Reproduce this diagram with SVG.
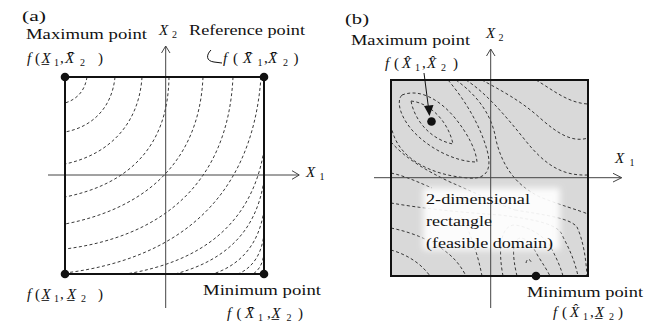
<svg xmlns="http://www.w3.org/2000/svg" width="654" height="323" viewBox="0 0 654 323">
<defs>
<style>
.t{font-family:"Liberation Serif","Times New Roman",serif;font-size:15px;fill:#111}
.it{font-style:italic}
.sb{font-size:10px}
.ax{stroke:#444;stroke-width:1;fill:none}
.ah{stroke:#444;stroke-width:1;fill:none}
.ct{stroke:#222;stroke-width:0.9;fill:none;stroke-dasharray:3 2.4}
.bd{stroke:#111;stroke-width:2;fill:none}
.dot{fill:#111}
</style>
<filter id="glow" x="-20%" y="-30%" width="140%" height="160%"><feGaussianBlur stdDeviation="3"/></filter>
</defs>
<rect width="654" height="323" fill="#fff"/>

<!-- Panel (a) -->
<g id="panel-a">
<g id="contours-a">
<path class="ct" d="M87,77 C85,90 78,99 65,103"/>
<path class="ct" d="M115,77 C112,108 92,127 65,132"/>
<path class="ct" d="M142,77 C139,125 108,155 65,164"/>
<path class="ct" d="M169,77 C168,150 125,185 65,197"/>
<path class="ct" d="M203,77 C199,168 138,210 65,224"/>
<path class="ct" d="M233,77 C228,185 160,237 65,249"/>
<path class="ct" d="M261,77 C252,205 170,260 65,273"/>
<path class="ct" d="M264,150 C252,225 200,262 126,274"/>
<path class="ct" d="M264,180 C256,236 220,262 175,274"/>
<path class="ct" d="M264,210 C259,245 240,265 213,274"/>
<path class="ct" d="M264,233 C262,255 252,268 238,274"/>
<path class="ct" d="M264,252 C263,264 259,270 253,274"/>
<path class="ct" d="M264,266 C264,270 262,272 259,274"/>
</g>
<g id="axes-a">
<path class="ax" d="M165.7,308 V46"/>
<path class="ah" d="M161.5,53 L165.7,46 L170,53"/>
<path class="ax" d="M48,175 H299"/>
<path class="ah" d="M292,170.7 L299.3,175 L292,179.3"/>
</g>
<g id="rect-a"><rect class="bd" x="65" y="77" width="199" height="197"/></g>
<g id="pt-max-a"><circle class="dot" cx="65" cy="77" r="4.3"/></g>
<g id="pt-ref-a"><circle class="dot" cx="264" cy="77" r="4.3"/></g>
<g id="pt-ll-a"><circle class="dot" cx="65" cy="274" r="4.3"/></g>
<g id="pt-min-a"><circle class="dot" cx="264" cy="274" r="4.3"/></g>
<g id="labels-a">
<text class="t" x="22" y="20.5" textLength="24" lengthAdjust="spacingAndGlyphs">(a)</text>
<text class="t" x="26" y="39" textLength="121" lengthAdjust="spacingAndGlyphs">Maximum point</text>
<text class="t"><tspan class="it" x="27" y="63">f</tspan><tspan x="35" y="63">(</tspan><tspan class="it" x="41.5" y="63">X̲</tspan><tspan class="sb" x="54" y="66">1</tspan><tspan x="60" y="63">,</tspan><tspan class="it" x="65" y="63">X̄</tspan><tspan class="sb" x="80" y="66">2</tspan><tspan x="98" y="63">)</tspan></text>
<text class="t"><tspan class="it" x="159" y="35">X</tspan><tspan class="sb" x="172" y="38">2</tspan></text>
<text class="t" x="189" y="35" textLength="116" lengthAdjust="spacingAndGlyphs">Reference point</text>
<path d="M211,50 C206,55 206,61 214,62 L222,63" stroke="#111" stroke-width="1" fill="none"/>
<text class="t"><tspan class="it" x="223" y="63">f</tspan><tspan x="233" y="63">(</tspan><tspan class="it" x="243" y="63">X̄</tspan><tspan class="sb" x="257.5" y="66">1</tspan><tspan x="264" y="63">,</tspan><tspan class="it" x="268" y="63">X̄</tspan><tspan class="sb" x="283" y="66">2</tspan><tspan x="293.5" y="63">)</tspan></text>
<text class="t"><tspan class="it" x="306" y="177">X</tspan><tspan class="sb" x="319.5" y="180">1</tspan></text>
<text class="t"><tspan class="it" x="27" y="299">f</tspan><tspan x="35" y="299">(</tspan><tspan class="it" x="41.5" y="299">X̲</tspan><tspan class="sb" x="54" y="302">1</tspan><tspan x="60" y="299">,</tspan><tspan class="it" x="67" y="299">X̲</tspan><tspan class="sb" x="81" y="302">2</tspan><tspan x="98" y="299">)</tspan></text>
<text class="t" x="203" y="295" textLength="118" lengthAdjust="spacingAndGlyphs">Minimum point</text>
<text class="t"><tspan class="it" x="227" y="318">f</tspan><tspan x="236.5" y="318">(</tspan><tspan class="it" x="245" y="318">X̄</tspan><tspan class="sb" x="258" y="321">1</tspan><tspan x="267" y="318">,</tspan><tspan class="it" x="271.5" y="318">X̲</tspan><tspan class="sb" x="286.5" y="321">2</tspan><tspan x="298" y="318">)</tspan></text>
</g>
</g>

<!-- Panel (b) -->
<g id="panel-b">
<rect x="391" y="80" width="197" height="196" fill="#d9d9d9"/>
<g id="contours-b">
<path class="ct" d="M411,101 C430,103 448,121 453,144 C432,140 415,122 411,101 Z"/>
<path class="ct" d="M402,95 C420,88 440,100 455,118 C468,134 476,150 477,162 C455,162 428,148 412,130 C400,116 396,101 402,95 Z"/>
<path class="ct" d="M391,125 C396,158 430,175 468,178 C488,180 492,168 487,150 C480,125 465,100 448,80"/>
<path class="ct" d="M391,142 C405,158 425,170 450,182 C480,195 500,205 515,210"/>
<path class="ct" d="M391,173 C405,176 418,182 432,188"/>
<path class="ct" d="M536,80 C553,90 568,103 588,104"/>
<path class="ct" d="M482,80 C500,90 520,100 540,118 C557,133 572,143 588,138"/>
<path class="ct" d="M466,80 C485,92 505,115 525,140 C545,165 562,176 588,175"/>
<path class="ct" d="M456,80 C478,96 492,115 496,140 C502,165 515,185 540,197 C560,205 578,210 588,214"/>
<path class="ct" d="M391,203 C420,208 455,212 500,215 C540,220 560,225 563,237 C570,250 575,262 578,276"/>
<path class="ct" d="M515,210 C545,215 570,218 577,227 C583,240 586,258 587,276"/>
<path class="ct" d="M391,228 C415,233 435,242 450,255 C458,262 463,270 466,276"/>
<path class="ct" d="M391,250 C405,254 420,262 430,276"/>
<path class="ct" d="M482,276 C478,255 470,230 460,215"/>
<path class="ct" d="M503,276 C498,250 500,225 515,225 C535,228 545,240 548,242 C555,255 560,265 563,276"/>
<path class="ct" d="M517,276 C512,255 512,240 520,238 C528,238 533,247 538,256 C543,264 547,270 550,276"/>
<path class="ct" d="M526,263 C527,258 530,258 532,264"/>
</g>
<rect x="423" y="188" width="137" height="62" fill="#fff" opacity="0.92" filter="url(#glow)"/>
<g id="axes-b">
<path class="ax" d="M490.7,308 V49"/>
<path class="ah" d="M486.5,56 L490.7,49 L495,56"/>
<path class="ax" d="M374,177.7 H621.7"/>
<path class="ah" d="M613,173.3 L621.7,177.7 L613,182"/>
</g>
<g id="rect-b"><rect class="bd" x="391" y="80" width="197" height="196"/></g>
<g id="pt-max-b"><circle class="dot" cx="431.5" cy="121.5" r="4.3"/></g>
<g id="pt-min-b"><circle class="dot" cx="536" cy="276" r="4.3"/></g>
<g id="arrow-max-b">
<path d="M424,73 L428.5,108" stroke="#111" stroke-width="1" fill="none"/>
<path d="M424,106 L433.5,105 L429.5,116 Z" fill="#111"/>
</g>
<g id="labels-b">
<text class="t" x="345" y="23.5" textLength="24" lengthAdjust="spacingAndGlyphs">(b)</text>
<text class="t" x="351" y="45" textLength="119" lengthAdjust="spacingAndGlyphs">Maximum point</text>
<text class="t"><tspan class="it" x="486" y="37.5">X</tspan><tspan class="sb" x="498.5" y="40.5">2</tspan></text>
<text class="t"><tspan class="it" x="385" y="68">f</tspan><tspan x="394" y="68">(</tspan><tspan class="it" x="402" y="68">X̂</tspan><tspan class="sb" x="415" y="71">1</tspan><tspan x="422" y="68">,</tspan><tspan class="it" x="427" y="68">X̂</tspan><tspan class="sb" x="441" y="71">2</tspan><tspan x="453" y="68">)</tspan></text>
<text class="t"><tspan class="it" x="615" y="163">X</tspan><tspan class="sb" x="629.5" y="166">1</tspan></text>
<text class="t" x="426" y="204" textLength="104" lengthAdjust="spacingAndGlyphs">2-dimensional</text>
<text class="t" x="426" y="225.5" textLength="66" lengthAdjust="spacingAndGlyphs">rectangle</text>
<text class="t" x="426" y="247.5" textLength="127" lengthAdjust="spacingAndGlyphs">(feasible domain)</text>
<text class="t" x="527" y="296.5" textLength="116" lengthAdjust="spacingAndGlyphs">Minimum point</text>
<text class="t"><tspan class="it" x="553" y="316.5">f</tspan><tspan x="562" y="316.5">(</tspan><tspan class="it" x="570" y="316.5">X̂</tspan><tspan class="sb" x="583" y="319.5">1</tspan><tspan x="590" y="316.5">,</tspan><tspan class="it" x="595" y="316.5">X̲</tspan><tspan class="sb" x="609" y="319.5">2</tspan><tspan x="618" y="316.5">)</tspan></text>
</g>
</g>
</svg>
